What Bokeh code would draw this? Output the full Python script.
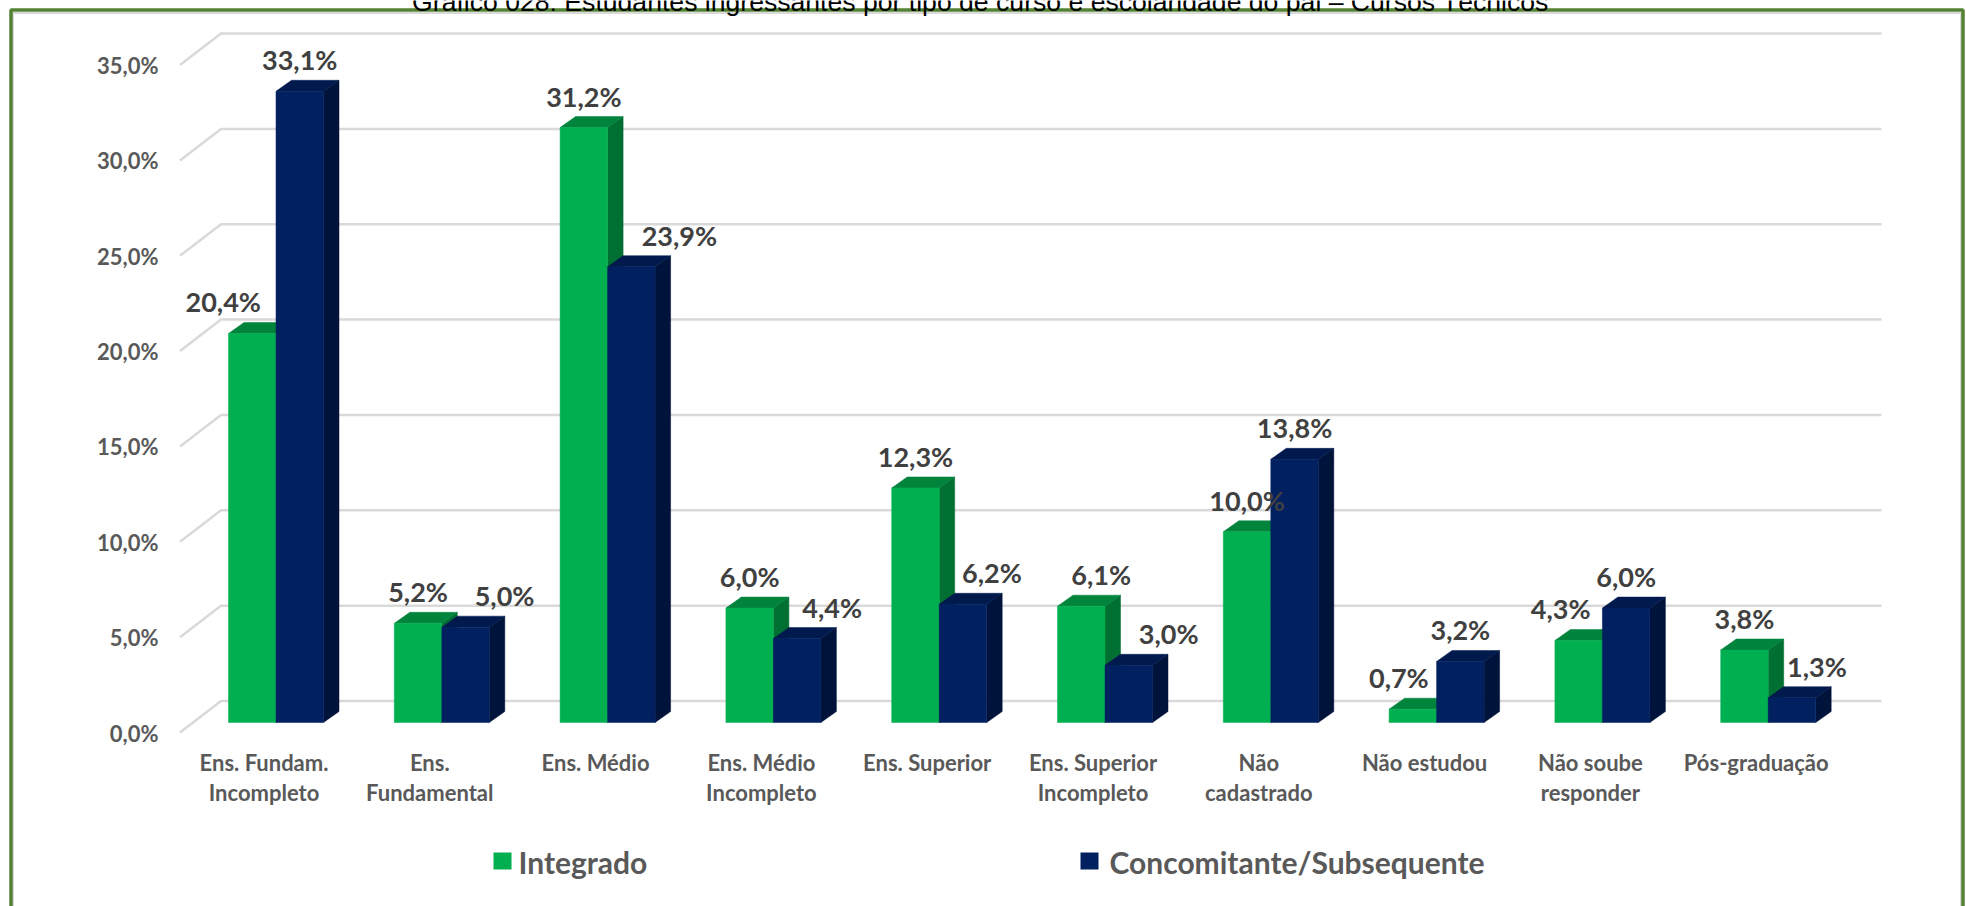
from bokeh.plotting import figure
from bokeh.models import Range1d
from bokeh.core.properties import value
from bokeh.embed import file_html
from bokeh.resources import INLINE

categories = [["Ens. Fundam.", "Incompleto"], ["Ens.", "Fundamental"], ["Ens. Médio"],
              ["Ens. Médio", "Incompleto"], ["Ens. Superior"], ["Ens. Superior", "Incompleto"],
              ["Não", "cadastrado"], ["Não estudou"], ["Não soube", "responder"], ["Pós-graduação"]]
integrado = [20.4, 5.2, 31.2, 6.0, 12.3, 6.1, 10.0, 0.7, 4.3, 3.8]
concomitante = [33.1, 5.0, 23.9, 4.4, 6.2, 3.0, 13.8, 3.2, 6.0, 1.3]
ticks = [0, 5, 10, 15, 20, 25, 30, 35]
title = "Gráfico 028: Estudantes ingressantes por tipo de curso e escolaridade do pai – Cursos Técnicos"
series_names = ["Integrado", "Concomitante/Subsequente"]

W, H = 1966, 906
PX = 19.07            # pixels per percentage point
Y0 = 732.0            # pixel row of 0 % on the front edge of the floor
GROUP = 165.8; X0 = 228.0; BAR = 47.5
DX, DY = 15.5, 11.0   # bar depth
WX, WY = 41.0, 31.5   # wall depth
BASE = 10.0           # bar base above floor front edge
# horizontal nudges of the data labels, as placed by hand in the reference
shift_int = [-29, 0, 0, 0, 0, 20, 0, -14, -18, 0]
shift_con = [0, 39, 48, 35, 29, 40, 0, 0, 0, 25]

p = figure(width=W, height=H, x_range=Range1d(0, W), y_range=Range1d(H, 0),
           output_backend="svg", toolbar_location=None, min_border=0,
           outline_line_color=None, background_fill_color="white", border_fill_color="white")
p.axis.visible = False
p.grid.visible = False
p.styles = {"position": "absolute", "left": "0", "top": "0"}

def vy(v):
    return Y0 - v * PX

# frame
p.line([12.5, 12.5, 1960.5, 1960.5], [906, 12.5, 12.5, 906], line_color="#d9d9d9", line_width=2)
p.line([10.5, 10.5, 1962.5, 1962.5], [906, 9.5, 9.5, 906], line_color="#548235", line_width=3.5)

# title (cut by the top edge, as in the reference)
p.text([980], [1], text=[title], text_font=value("Liberation Sans"), text_font_size="26.6px",
       text_color="#000000", text_align="center", text_baseline="alphabetic")

# gridlines
for t in ticks:
    p.line([179.5, 179.5 + WX, 1881], [vy(t), vy(t) - WY, vy(t) - WY], line_color="#d9d9d9", line_width=2.5)

# tick labels
p.text([158] * len(ticks), [vy(t) + 0.5 for t in ticks],
       text=[f"{t},0%" for t in ticks], text_font=value("Lato"), text_font_style="bold",
       text_font_size="22px", text_color="#595959", text_align="right", text_baseline="middle")

def bar(x, v, front, top, side):
    yb = vy(0) - BASE
    yt = yb - v * PX
    p.patch([x + BAR, x + BAR + DX, x + BAR + DX, x + BAR], [yb, yb - DY, yt - DY, yt], fill_color=side, line_color=side, line_width=0.5)
    p.patch([x, x + DX, x + BAR + DX, x + BAR], [yt, yt - DY, yt - DY, yt], fill_color=top, line_color=top, line_width=0.5)
    p.quad(left=[x], right=[x + BAR], top=[yt], bottom=[yb], fill_color=front, line_color=front, line_width=0.5)

for i in range(len(categories)):
    x = X0 + i * GROUP
    bar(x, integrado[i], "#00b050", "#00843c", "#006f32")
    bar(x + BAR, concomitante[i], "#002060", "#001a4e", "#00133a")

lx, ly, lt = [], [], []
for i in range(len(categories)):
    x = X0 + i * GROUP
    yb = vy(0) - BASE
    lx += [x + BAR / 2 + shift_int[i], x + BAR * 1.5 + shift_con[i]]
    ly += [yb - integrado[i] * PX - 15, yb - concomitante[i] * PX - 15]
    lt += [f"{integrado[i]:.1f}".replace(".", ",") + "%", f"{concomitante[i]:.1f}".replace(".", ",") + "%"]
p.text(lx, ly, text=lt, text_font=value("Lato"), text_font_style="bold", text_font_size="27px",
       text_color="#404040", text_align="center", text_baseline="bottom")

# category labels
cx, cy, ct = [], [], []
for i, lines in enumerate(categories):
    for j, s in enumerate(lines):
        cx.append(X0 + i * GROUP + 35.5)
        cy.append(762 + j * 30)
        ct.append(s)
p.text(cx, cy, text=ct, text_font=value("Lato"), text_font_style="bold", text_font_size="22px",
       text_color="#595959", text_align="center", text_baseline="middle")

# legend
p.quad(left=[493, 1080], right=[511, 1098], top=[852, 852], bottom=[869, 869],
       fill_color=["#00b050", "#002060"], line_color=None)
p.text([518, 1109], [861, 861], text=series_names, text_font=value("Lato"), text_font_style="bold",
       text_font_size="30px", text_color="#595959", text_align="left", text_baseline="middle")

open("out.html", "w").write(file_html(p, INLINE))
